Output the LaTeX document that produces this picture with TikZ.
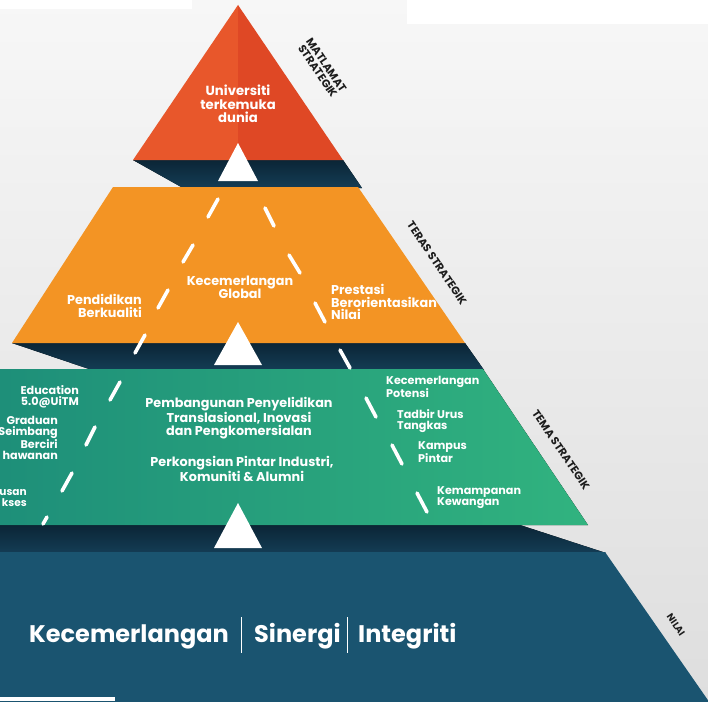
\documentclass[tikz,border=0pt]{standalone}
\usepackage{fontspec}
\setmainfont{Poppins}
\usetikzlibrary{positioning}

\definecolor{bgtop}{HTML}{F7F7F7}
\definecolor{bgbot}{HTML}{DEDEDE}
\definecolor{goalL}{HTML}{E8572B}
\definecolor{goalR}{HTML}{DF4825}
\definecolor{coreorange}{HTML}{F39424}
\definecolor{themeL}{HTML}{1A8878}
\definecolor{themeR}{HTML}{31B37F}
\definecolor{valueblue}{HTML}{1A5470}
\definecolor{shadowA}{HTML}{0B2536}
\definecolor{shadowB}{HTML}{143D55}
\definecolor{sidegray}{HTML}{1C1C1C}

\tikzset{
  shadow/.style={top color=shadowA, bottom color=shadowB},
  whitetip/.style={fill=white},
  dashmark/.style={white, line width=3.6pt, line cap=round},
  tiertext/.style={text=white, font=\bfseries\fontsize{12.8}{13}\selectfont, inner sep=0pt},
  smalltext/.style={text=white, font=\bfseries\fontsize{11.2}{11}\selectfont, inner sep=0pt},
  sidelabel/.style={text=sidegray, font=\bfseries\fontsize{11}{10.5}\selectfont, rotate=-56, inner sep=0pt, align=center},
  valuetext/.style={text=white, font=\bfseries\fontsize{24}{26}\selectfont, inner sep=0pt, anchor=base west}
}

\begin{document}
\begin{tikzpicture}[x=1pt, y=-1pt]
    \useasboundingbox (0,0) rectangle (708,701);
    \clip (0,0) rectangle (708,701);

    % background
    \fill[top color=bgtop, bottom color=bgbot] (0,0) rectangle (708,701);
    \fill[white] (0,0) rectangle (192,9);
    \fill[white] (407,0) rectangle (708,24);

    % shadows between the tiers
    \fill[shadow] (133,160) -- (343,160) -- (362,188) -- (183,188) -- cycle;
    \fill[shadow] (12,343) -- (465,343) -- (484,370) -- (92,370) -- cycle;
    \fill[shadow] (-120,525) -- (520,525) -- (606,553) -- (-120,553) -- cycle;

    % tiers
    \fill[goalL] (238,5) -- (133,160) -- (238,160) -- cycle;
    \fill[goalR] (238,5) -- (343,160) -- (238,160) -- cycle;
    \fill[coreorange] (113,187) -- (358,187) -- (465,343) -- (12,343) -- cycle;
    \fill[left color=themeL, right color=themeR] (-7,369) -- (483,369) -- (588,525) -- (-112,525) -- cycle;
    \fill[valueblue] (-120,552) -- (605,552) -- (712,706) -- (-120,706) -- cycle;
    \fill[white] (0,697) rectangle (115,701);

    % white tips
    \fill[whitetip] (238,143) -- (218,181) -- (258,181) -- cycle;
    \fill[whitetip] (238,322) -- (214,365) -- (262,365) -- cycle;
    \fill[whitetip] (238,503) -- (214,548) -- (262,548) -- cycle;

    % dashed guide lines
    \draw[dashmark] (218,199) -- (208,217);
    \draw[dashmark] (193,245) -- (183,262);
    \draw[dashmark] (168,290) -- (158,308);
    \draw[dashmark] (145,335) -- (135,353);
    \draw[dashmark] (120,382) -- (110,400);
    \draw[dashmark] (95,427) -- (86,445);
    \draw[dashmark] (72,473) -- (62,491);
    \draw[dashmark] (47,517) -- (43,524);
    \draw[dashmark] (265,208) -- (274,226);
    \draw[dashmark] (289,255) -- (300,273);
    \draw[dashmark] (315,303) -- (325,322);
    \draw[dashmark] (340,350) -- (350,368);
    \draw[dashmark] (366,398) -- (376,417);
    \draw[dashmark] (392,445) -- (402,464);
    \draw[dashmark] (417,493) -- (427,512);

    % goal
    \node[tiertext, font=\bfseries\fontsize{13.2}{13.5}\selectfont, align=center] (goal) at (238,104) {Universiti\\terkemuka\\dunia};

    % core
    \node[tiertext, align=right, anchor=east] (quality) at (142,306) {Pendidikan\\Berkualiti};
    \node[tiertext, align=center] (global) at (240,287) {Kecemerlangan\\Global};
    \node[tiertext, font=\bfseries\fontsize{12.8}{12.5}\selectfont, align=left, anchor=west] (merit) at (331,302) {Prestasi\\Berorientasikan\\Nilai};

    % themes
    \node[smalltext, align=right, anchor=east] (edu) at (79,397) {Education\\5.0@UiTM};
    \node[smalltext, font=\bfseries\fontsize{11.2}{10.7}\selectfont, align=right, anchor=east] (grad) at (58,438) {Graduan\\Seimbang\\Berciri\\hawanan};
    \node[smalltext, font=\bfseries\fontsize{10.6}{11}\selectfont, align=right, anchor=east] (access) at (27,498) {usan\\kses};
    \node[tiertext, align=center] (research) at (239,418) {Pembangunan Penyelidikan\\Translasional, Inovasi\\dan Pengkomersialan};
    \node[tiertext, font=\bfseries\fontsize{12.8}{12}\selectfont, align=center] (partner) at (242,469) {Perkongsian Pintar Industri,\\Komuniti \& Alumni};
    \node[smalltext, align=left, anchor=west] (talent) at (386,387) {Kecemerlangan\\Potensi};
    \node[smalltext, align=left, anchor=west] (gov) at (397,421) {Tadbir Urus\\Tangkas};
    \node[smalltext, align=left, anchor=west, font=\bfseries\fontsize{11.2}{9.5}\selectfont] (campus) at (418,452) {Kampus\\Pintar};
    \node[smalltext, align=left, anchor=west] (finance) at (437,498) {Kemampanan\\Kewangan};

    % values
    \node[valuetext] (excel) at (29,642) {Kecemerlangan};
    \node[valuetext] (synergy) at (254,642) {Sinergi};
    \node[valuetext] (integrity) at (358,642) {Integriti};
    \draw[white, line width=0.8pt] (241,617) -- (241,653);
    \draw[white, line width=0.8pt] (347,617) -- (347,653);

    % side labels
    \node[sidelabel] (lgoal) at (322,68) {MATLAMAT\\STRATEGIK};
    \node[sidelabel] (lcore) at (437,263) {TERAS STRATEGIK};
    \node[sidelabel] (ltheme) at (561,450) {TEMA STRATEGIK};
    \node[sidelabel, font=\bfseries\fontsize{9.5}{10}\selectfont] (lvalue) at (676,625) {NILAI};
\end{tikzpicture}
\end{document}
